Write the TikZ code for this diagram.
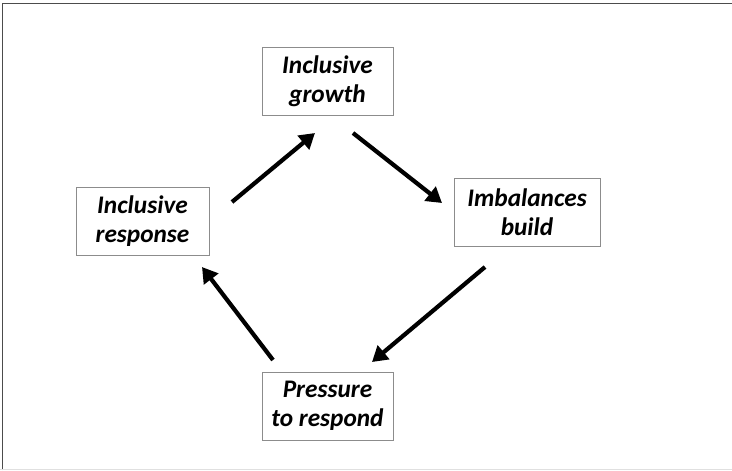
\documentclass[tikz,border=0pt]{standalone}
\usepackage{fontspec}
\setmainfont{Carlito}
\usetikzlibrary{arrows.meta}

\begin{document}
\begin{tikzpicture}
[x=0.025cm,y=-0.025cm,
  boxDecorate/.style={shape=rectangle,draw=black!45,line width=0.7pt,align=center,%
    minimum height=1.7cm,inner sep=0pt,font=\fontsize{18}{20.5}\selectfont\bfseries\itshape},
  arrowDecorate/.style={line width=3pt,-{Triangle[length=0.38cm,width=0.44cm]}}]
\useasboundingbox (0,0) rectangle (732,470);
%% frame
\draw[black!70,line width=1.4pt] (2.5,470) -- (2.5,3.5) -- (732,3.5);
\draw[black!12,line width=0.6pt] (0,469.5) -- (732,469.5);
%% boxes
\foreach \nodename/\x/\y/\w/\txt in {growth/327.5/81/131/{Inclusive\\growth},
  imbalance/527/212.5/146/{Imbalances\\build},
  pressure/327.5/406/131/{Pressure\\to respond},
  response/142.5/221.5/133/{Inclusive\\response}} {
  \node (\nodename) at (\x,\y) [boxDecorate,minimum width=\w*0.025cm] {\txt};
}
%% arrow ends
\foreach \cname/\x/\y in {rgStart/232/202, rgEnd/315/133,
  giStart/353/133, giEnd/442/203,
  ipStart/485/267, ipEnd/372/362,
  prStart/273/360, prEnd/202/267} {
  \coordinate (\cname) at (\x,\y);
}
%% arrows
\draw[arrowDecorate] (rgStart) -- (rgEnd);
\draw[arrowDecorate] (giStart) -- (giEnd);
\draw[arrowDecorate] (ipStart) -- (ipEnd);
\draw[arrowDecorate] (prStart) -- (prEnd);
\end{tikzpicture}
\end{document}
